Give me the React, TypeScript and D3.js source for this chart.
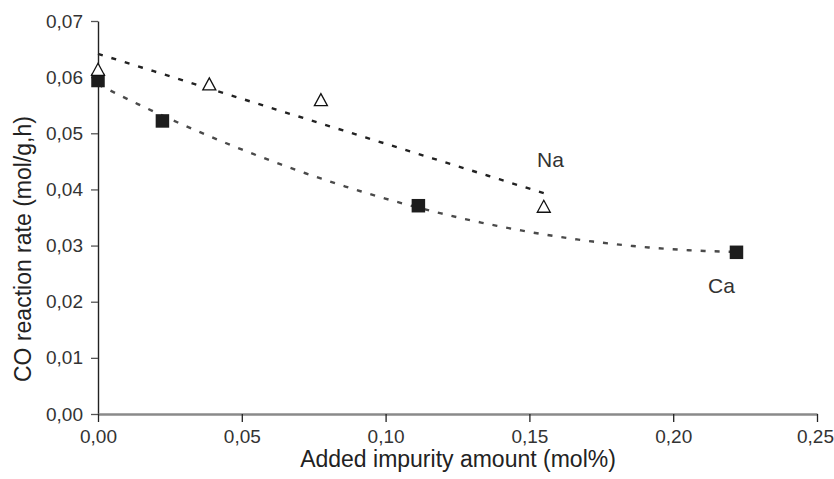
import * as d3 from "d3";
import { useEffect, useRef } from "react";

// Na series (open triangles)
const naX = [0.0, 0.0387, 0.0775, 0.155];
const naY = [0.0614, 0.0588, 0.056, 0.037];
// Ca series (filled squares)
const caX = [0.0, 0.0224, 0.1114, 0.222];
const caY = [0.0594, 0.0522, 0.0371, 0.0288];

const xTicks = [0, 0.05, 0.1, 0.15, 0.2, 0.25];
const yTicks = [0, 0.01, 0.02, 0.03, 0.04, 0.05, 0.06, 0.07];

const xTitle = "Added impurity amount (mol%)";
const yTitle = "CO reaction rate (mol/g,h)";

const width = 834;
const height = 479;
const marginLeft = 98;
const marginRight = 17;
const marginTop = 21;
const marginBottom = 65;
const FONT = "'Liberation Sans', Arial, Helvetica, sans-serif";

// least squares polynomial fit, returns a function c0 + c1 x + c2 x^2 ...
function polyFit(xs: number[], ys: number[], order: number) {
  const n = order + 1;
  const A: number[][] = [];
  for (let r = 0; r < n; r++) {
    const row: number[] = [];
    for (let c = 0; c < n; c++) row.push(d3.sum(xs, (x) => Math.pow(x, r + c)));
    row.push(d3.sum(xs, (x, i) => ys[i] * Math.pow(x, r)));
    A.push(row);
  }
  for (let i = 0; i < n; i++) {
    let p = i;
    for (let k = i + 1; k < n; k++) if (Math.abs(A[k][i]) > Math.abs(A[p][i])) p = k;
    [A[i], A[p]] = [A[p], A[i]];
    for (let k = i + 1; k < n; k++) {
      const f = A[k][i] / A[i][i];
      for (let j = i; j <= n; j++) A[k][j] -= f * A[i][j];
    }
  }
  const coef = new Array(n).fill(0);
  for (let i = n - 1; i >= 0; i--) {
    let s = A[i][n];
    for (let j = i + 1; j < n; j++) s -= A[i][j] * coef[j];
    coef[i] = s / A[i][i];
  }
  return (x: number) => coef.reduce((acc, c, i) => acc + c * Math.pow(x, i), 0);
}

export default function App() {
  const ref = useRef<SVGSVGElement | null>(null);

  useEffect(() => {
    const svg = d3.select(ref.current);
    svg.selectAll("*").remove();

    const x = d3.scaleLinear().domain([0, 0.25]).range([marginLeft, width - marginRight]);
    const y = d3.scaleLinear().domain([0, 0.07]).range([height - marginBottom, marginTop]);
    const fmt = (d: d3.NumberValue) => d3.format(".2f")(d as number).replace(".", ",");

    // trend lines (linear for Na, 2nd order for Ca)
    const naFit = polyFit(naX, naY, 1);
    const caFit = polyFit(caX, caY, 2);

    const naPts = d3.range(0, 41).map((i) => (i / 40) * d3.max(naX)!);
    const caPts = d3.range(0, 81).map((i) => (i / 80) * d3.max(caX)!);

    svg
      .append("path")
      .attr("d", d3.line<number>().x((d) => x(d)).y((d) => y(caFit(d)))(caPts))
      .attr("fill", "none")
      .attr("stroke", "#4a4a4a")
      .attr("stroke-width", 2.4)
      .attr("stroke-dasharray", "5,9");

    svg
      .append("path")
      .attr("d", d3.line<number>().x((d) => x(d)).y((d) => y(naFit(d)))(naPts))
      .attr("fill", "none")
      .attr("stroke", "#222")
      .attr("stroke-width", 2.4)
      .attr("stroke-dasharray", "5,9");

    // y axis
    const gy = svg
      .append("g")
      .attr("transform", `translate(${marginLeft},0)`)
      .call(d3.axisLeft(y).tickValues(yTicks).tickFormat(fmt).tickSize(7).tickSizeOuter(0).tickPadding(8));
    gy.select(".domain").attr("stroke", "#222").attr("stroke-width", 1.4);
    gy.selectAll(".tick line").attr("stroke", "#555").attr("stroke-width", 1.3);
    gy.selectAll("text").attr("font-size", 19).attr("font-family", FONT).attr("fill", "#333");

    // x axis
    const gx = svg
      .append("g")
      .attr("transform", `translate(0,${height - marginBottom})`)
      .call(d3.axisBottom(x).tickValues(xTicks).tickFormat(fmt).tickSize(8).tickSizeOuter(0).tickPadding(8));
    gx.select(".domain").attr("stroke", "#8a8a8a").attr("stroke-width", 2.6);
    gx.selectAll(".tick line").attr("stroke", "#222").attr("stroke-width", 1.3);
    gx.selectAll("text").attr("font-size", 19).attr("font-family", FONT).attr("fill", "#333");
    // keep the last label inside the picture
    gx.selectAll<SVGTextElement, number>("text")
      .filter((d) => d === 0.25)
      .attr("dx", -2);

    // markers: Ca squares
    const sq = 13.5;
    svg
      .append("g")
      .selectAll("rect")
      .data(caX)
      .join("rect")
      .attr("x", (d) => x(d) - sq / 2)
      .attr("y", (d, i) => y(caY[i]) - sq / 2)
      .attr("width", sq)
      .attr("height", sq)
      .attr("fill", "#1d1d1d");

    // markers: Na triangles
    const tw = 13, th = 12;
    const triPath = `M0,${-th / 2}L${tw / 2},${th / 2}L${-tw / 2},${th / 2}Z`;
    svg
      .append("g")
      .selectAll("path")
      .data(naX)
      .join("path")
      .attr("transform", (d, i) => `translate(${x(d)},${y(naY[i])})`)
      .attr("d", triPath)
      .attr("fill", "white")
      .attr("stroke", "#111")
      .attr("stroke-width", 1.3)
      .attr("stroke-linejoin", "miter");

    // series labels
    svg
      .append("text")
      .attr("x", 537)
      .attr("y", 167)
      .attr("font-size", 21)
      .attr("font-family", FONT)
      .attr("fill", "#333")
      .text("Na");
    svg
      .append("text")
      .attr("x", 708)
      .attr("y", 293)
      .attr("font-size", 21)
      .attr("font-family", FONT)
      .attr("fill", "#333")
      .text("Ca");

    // axis titles
    svg
      .append("text")
      .attr("x", 458)
      .attr("y", 467)
      .attr("text-anchor", "middle")
      .attr("font-size", 23)
      .attr("font-family", FONT)
      .attr("fill", "#222")
      .text(xTitle);
    svg
      .append("text")
      .attr("transform", `translate(31,382) rotate(-90)`)
      .attr("text-anchor", "start")
      .attr("font-size", 23)
      .attr("font-family", FONT)
      .attr("fill", "#222")
      .text(yTitle);
  }, []);

  return (
    <div style={{ position: "absolute", left: 0, top: 0 }}>
      <svg ref={ref} width={width} height={height} style={{ background: "white", display: "block" }} />
    </div>
  );
}
